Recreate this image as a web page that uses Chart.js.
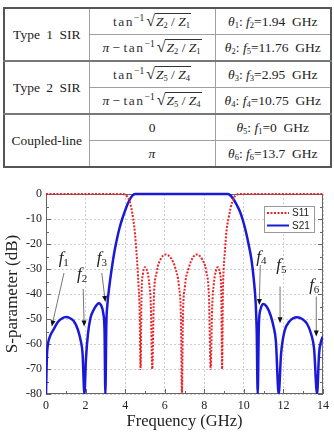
<!DOCTYPE html>
<html lang="en">
<head>
  <meta charset="UTF-8" />
  <title>SIR bandpass filter - S-parameters</title>
  <script src="https://cdn.jsdelivr.net/npm/chart.js"></script>
  <style>
    body {
      margin: 0;
      background: #fff;
      width: 334px;
      height: 434px;
      position: relative;
      overflow: hidden;
      font-family: 'Liberation Serif', serif;
      color: #222;
    }

    #sirTable {
      position: absolute;
      left: 3px;
      top: 7px;
      width: 327px;
      table-layout: fixed;
      border-collapse: collapse;
      border: 2px solid #555;
      font-family: 'Liberation Serif', 'DejaVu Serif', serif;
      font-size: 13.5px;
    }

    #sirTable td {
      border: 1px solid #a0a0a0;
      text-align: center;
      padding: 0;
      height: 25px;
      line-height: 14px;
      white-space: nowrap;
      overflow: hidden;
    }

    #sirTable tr.grp td { border-top: 2px solid #777; }
    #sirTable td.name { word-spacing: 3px; }

    .tan { letter-spacing: 1.5px; color: #333; }
    .fx sup { font-size: 9.5px; vertical-align: 5px; line-height: 0; }
    .fx sub, .th sub { font-size: 8.5px; vertical-align: -2px; line-height: 0; }
    .sq { font-size: 16px; margin-left: 2px; }
    .ov { border-top: 1px solid #333; padding: 0 1px; }

    #sparChart { position: absolute; left: 0; top: 175px; }
  </style>
</head>
<body>
  <canvas id="sparChart" width="334" height="259"></canvas>

  <script>
    // S11 (dB) vs frequency (GHz)
    const s11Freq = [0, 3.9, 4.0, 4.12, 4.23, 4.32, 4.4, 4.5, 4.57, 4.63,
                     4.68, 4.73, 4.78, 4.83, 4.9, 5.01, 5.12, 5.22, 5.3, 5.37,
                     5.45, 5.6, 5.8, 6.04, 6.3, 6.55, 6.72, 6.82, 6.87, 6.92,
                     7.02, 7.2, 7.42, 7.64, 7.88, 8.1, 8.24, 8.32, 8.4, 8.48,
                     8.58, 8.68, 8.8, 8.86, 8.9, 8.94, 8.98, 9.04, 9.12, 9.23,
                     9.32, 9.42, 9.52, 9.65, 9.75, 14];
    const s11Db   = [0, 0, -0.3, -1.2, -3, -6, -9.7, -16, -23, -30,
                     -37, -46, -70, -40, -32, -29.3, -31, -36, -45, -70,
                     -42, -31, -26, -24.2, -25.5, -30, -37, -50, -80, -50,
                     -37, -30, -25.5, -24.2, -26, -31, -42, -70, -45, -36,
                     -31, -29.3, -32, -40, -70, -40, -30, -23, -15, -9.7,
                     -6, -3, -1.2, -0.3, 0, 0];

    // S21 (dB)
    const s21Freq = [0, 0.04, 0.1, 0.2, 0.37, 0.6, 0.8, 1.02, 1.2, 1.4,
                     1.6, 1.75, 1.85, 1.94, 2.02, 2.12, 2.25, 2.4, 2.55, 2.67,
                     2.8, 2.9, 2.96, 3.0, 3.05, 3.1, 3.2, 3.33, 3.46, 3.6,
                     3.72, 3.85, 3.96, 4.1, 4.22, 4.35, 4.5, 9.2, 9.35, 9.5,
                     9.65, 9.8, 9.95, 10.1, 10.25, 10.38, 10.5, 10.6, 10.65, 10.7,
                     10.76, 10.85, 10.98, 11.15, 11.35, 11.5, 11.62, 11.76, 11.88, 12.05,
                     12.3, 12.69, 12.95, 13.2, 13.4, 13.55, 13.7, 13.8, 13.9, 14];
    const s21Db   = [-80, -66, -60, -57, -54.4, -51.2, -49.8, -49.2, -49.6, -50.8,
                     -54, -58.5, -64, -80, -66, -56, -49.5, -46.5, -44.5, -43.7,
                     -44.8, -48, -55, -80, -52, -44.5, -37, -29.5, -23, -17.5,
                     -13.5, -10, -7.5, -4.5, -2.4, -0.8, 0, 0, -0.8, -2.4,
                     -4.5, -7, -10.5, -15, -20.5, -26, -34, -44, -55, -80,
                     -52, -46, -44, -45, -48.5, -53, -59, -80, -64, -55,
                     -51, -49.3, -50, -52, -56, -62, -80, -64, -59, -57];

    const xTicks = [0, 2, 4, 6, 8, 10, 12, 14];
    const yTicks = [0, -10, -20, -30, -40, -50, -60, -70, -80];

    // arrow labels f1..f6: label spot, arrow start, arrow tip (GHz, dB)
    const markLabels = ['1', '2', '3', '4', '5', '6'];
    const markText   = [[0.76, -26], [1.69, -32.4], [2.69, -26], [10.75, -25.4], [11.76, -28.8], [13.42, -36.8]];
    const markFrom   = [[0.91, -31.6], [1.88, -38], [2.82, -31.6], [10.83, -28.4], [11.83, -37], [13.66, -41]];
    const markTo     = [[0.29, -53], [1.93, -53], [3.0, -43.2], [10.78, -44.4], [11.83, -51.7], [13.66, -57]];

    // table rows: SIR group, formula cell, resonance cell
    const rootAB = '<span class="tan">tan</span><sup>−1</sup><span class="sq">√</span><span class="ov"><i>Z</i><sub>2</sub> / <i>Z</i><sub>1</sub></span>';
    const rootCD = '<span class="tan">tan</span><sup>−1</sup><span class="sq">√</span><span class="ov"><i>Z</i><sub>5</sub> / <i>Z</i><sub>4</sub></span>';
    const tableGroups = ['Type 1 SIR', 'Type 2 SIR', 'Coupled-line'];
    const tableAngle  = [rootAB, '<i>π</i> − ' + rootAB, rootCD, '<i>π</i> − ' + rootCD, '0', '<i>π</i>'];
    const tableFreq   = [['1', '2', '1.94'], ['2', '5', '11.76'], ['3', '3', '2.95'],
                         ['4', '4', '10.75'], ['5', '1', '0'], ['6', '6', '13.7']];

    const toPts = (xs, ys) => xs.map((x, i) => ({ x: x, y: ys[i] }));

    const serif = "'Liberation Serif', 'Times New Roman', serif";

    const decor = {
      id: 'decor',
      beforeDatasetsDraw(chart) {
        const { ctx, chartArea: a, scales } = chart;
        ctx.save();
        ctx.strokeStyle = '#666';
        ctx.lineWidth = 1;
        ctx.strokeRect(a.left + 0.5, a.top + 0.5, a.right - a.left - 1, a.bottom - a.top - 1);
        // inward ticks, majors and minors
        ctx.beginPath();
        for (let v = -80; v <= 0; v += 5) {
          const y = Math.round(scales.y.getPixelForValue(v)) + 0.5;
          const len = v % 10 === 0 ? 5 : 3;
          ctx.moveTo(a.left, y); ctx.lineTo(a.left + len, y);
          ctx.moveTo(a.right, y); ctx.lineTo(a.right - len, y);
        }
        for (let v = 0; v <= 14; v += 1) {
          const x = Math.round(scales.x.getPixelForValue(v)) + 0.5;
          const len = v % 2 === 0 ? 5 : 3;
          ctx.moveTo(x, a.bottom); ctx.lineTo(x, a.bottom - len);
        }
        ctx.stroke();
        ctx.restore();
      },
      afterDatasetsDraw(chart) {
        const { ctx, chartArea: a, scales } = chart;
        const px = p => [scales.x.getPixelForValue(p[0]), scales.y.getPixelForValue(p[1])];
        ctx.save();

        // arrows
        markFrom.forEach((f, i) => {
          const [x0, y0] = px(f);
          const [x1, y1] = px(markTo[i]);
          const ang = Math.atan2(y1 - y0, x1 - x0);
          ctx.strokeStyle = '#777';
          ctx.lineWidth = 1;
          ctx.beginPath();
          ctx.moveTo(x0, y0);
          ctx.lineTo(x1 - 4 * Math.cos(ang), y1 - 4 * Math.sin(ang));
          ctx.stroke();
          ctx.fillStyle = '#111';
          ctx.beginPath();
          ctx.moveTo(x1, y1);
          ctx.lineTo(x1 - 6 * Math.cos(ang) + 2.5 * Math.sin(ang), y1 - 6 * Math.sin(ang) - 2.5 * Math.cos(ang));
          ctx.lineTo(x1 - 6 * Math.cos(ang) - 2.5 * Math.sin(ang), y1 - 6 * Math.sin(ang) + 2.5 * Math.cos(ang));
          ctx.closePath();
          ctx.fill();
        });

        // f labels
        ctx.fillStyle = '#222';
        ctx.textAlign = 'center';
        ctx.textBaseline = 'middle';
        markText.forEach((t, i) => {
          const [x, y] = px(t);
          ctx.font = 'italic 17px ' + serif;
          ctx.fillText('f', x, y);
          ctx.font = '11px ' + serif;
          ctx.fillText(markLabels[i], x + 5, y + 4);
        });

        // legend box
        const bx = a.right - 59, by = a.top + 12, bw = 50, bh = 26;
        ctx.fillStyle = '#fff';
        ctx.fillRect(bx, by, bw, bh);
        ctx.strokeStyle = '#999';
        ctx.lineWidth = 1;
        ctx.strokeRect(bx + 0.5, by + 0.5, bw, bh);
        chart.data.datasets.forEach((ds, i) => {
          const ly = by + 7 + i * 12.5;
          ctx.strokeStyle = ds.borderColor;
          ctx.lineWidth = 2;
          ctx.setLineDash(ds.borderDash || []);
          ctx.beginPath();
          ctx.moveTo(bx + 3, ly);
          ctx.lineTo(bx + 25, ly);
          ctx.stroke();
          ctx.setLineDash([]);
          ctx.fillStyle = '#222';
          ctx.font = '10px "Liberation Sans", Arial, sans-serif';
          ctx.textAlign = 'left';
          ctx.fillText(ds.label, bx + 28, ly + 0.5);
        });
        ctx.restore();
      }
    };

    const chart = new Chart(document.getElementById('sparChart').getContext('2d'), {
      type: 'line',
      data: {
        datasets: [{
          label: 'S11',
          data: toPts(s11Freq, s11Db),
          borderColor: '#e8242a',
          borderWidth: 2,
          borderDash: [2, 1.5],
          pointRadius: 0,
          cubicInterpolationMode: 'monotone',
          clip: { left: 0, top: 4, right: 0, bottom: 0 }
        }, {
          label: 'S21',
          data: toPts(s21Freq, s21Db),
          borderColor: '#1a1ad6',
          borderWidth: 2.5,
          pointRadius: 0,
          cubicInterpolationMode: 'monotone',
          clip: { left: 0, top: 4, right: 0, bottom: 0 }
        }]
      },
      options: {
        responsive: false,
        maintainAspectRatio: false,
        animation: false,
        events: [],
        layout: { padding: { top: 19, right: 10, left: 0, bottom: 0 } },
        plugins: {
          legend: { display: false },
          tooltip: { enabled: false }
        },
        scales: {
          x: {
            type: 'linear',
            min: 0,
            max: 14,
            afterFit: s => { s.height = 40; },
            afterBuildTicks: s => { s.ticks = xTicks.map(v => ({ value: v })); },
            grid: { color: '#cfcfcf', lineWidth: 1, drawTicks: false },
            border: { display: false, dash: [2, 2] },
            ticks: { padding: 5, color: '#222', font: { family: serif, size: 12 } },
            title: { display: true, text: 'Frequency (GHz)', color: '#222', padding: { top: 0, bottom: 2 }, font: { family: serif, size: 16.5 } }
          },
          y: {
            min: -80,
            max: 0,
            afterFit: s => { s.width = 46; },
            afterBuildTicks: s => { s.ticks = yTicks.map(v => ({ value: v })); },
            grid: { color: '#cfcfcf', lineWidth: 1, drawTicks: false },
            border: { display: false, dash: [2, 2] },
            ticks: { padding: 4, color: '#222', font: { family: serif, size: 12 } },
            title: { display: true, text: 'S-parameter (dB)', color: '#222', padding: { top: 2, bottom: 0 }, font: { family: serif, size: 17 } }
          }
        }
      },
      plugins: [decor]
    });

    // table goes in after the chart is built
    const table = document.createElement('table');
    table.id = 'sirTable';
    let rows = '<colgroup><col style="width:85px"><col style="width:126px"><col style="width:116px"></colgroup>';
    tableAngle.forEach((cell, i) => {
      const f = tableFreq[i];
      rows += '<tr' + (i > 0 && i % 2 === 0 ? ' class="grp"' : '') + '>';
      if (i % 2 === 0) rows += '<td rowspan="2" class="name">' + tableGroups[i / 2] + '</td>';
      rows += '<td class="fx">' + cell + '</td>';
      rows += '<td class="th"><i>θ</i><sub>' + f[0] + '</sub>: <i>f</i><sub>' + f[1] + '</sub>=' + f[2] + '&nbsp; GHz</td></tr>';
    });
    table.innerHTML = rows;
    document.body.insertBefore(table, document.body.firstChild);

    // keep the -80 dB floor 40px above the canvas bottom and the canvas unscaled
    function fixFloor() {
      const cv = chart.canvas;
      cv.style.width = '334px';
      cv.style.height = chart.height + 'px';
      let gap = 219 - chart.chartArea.bottom;
      if (Math.abs(gap) < 0.5) return;
      chart.resize(334, chart.height - 1);
      chart.resize(334, 259);
      gap = 219 - chart.chartArea.bottom;
      if (Math.abs(gap) >= 0.5) chart.resize(334, Math.round(259 + gap));
    }
    fixFloor();
    setTimeout(fixFloor, 30);
    window.addEventListener('load', fixFloor);
  </script>
</body>
</html>
